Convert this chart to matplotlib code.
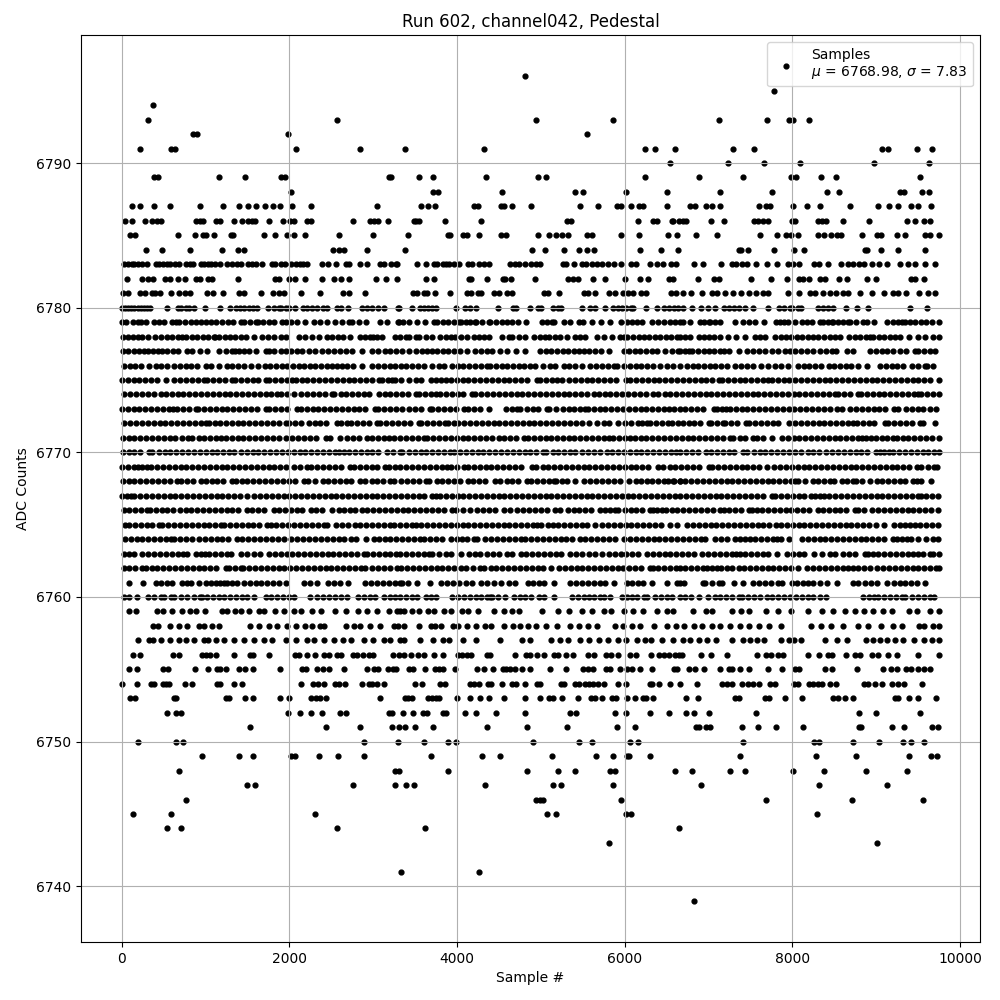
import matplotlib

matplotlib.use("Agg")
import matplotlib.pyplot as plt

# sample numbers, one list per ADC level
s6739 = [6822]
s6741 = [3330, 4259]
s6743 = [5807, 9013]
s6744 = [540, 707, 2565, 3616, 6650]
s6745 = [135, 588, 2303, 5069, 5176, 6010, 6081, 8299]
s6746 = [766, 4938, 4986, 5021, 5950, 7691, 8716, 9561]
s6747 = [1493, 1588, 2755, 3255, 3390, 3485, 4330, 5140, 5236, 5855, 6905, 8323, 9132]
s6748 = [683, 3263, 3303, 3890, 4831, 5200, 5402, 5819, 5879, 6605, 6798, 7251, 7441, 8013, 8382, 8882, 9371]
s6749 = [957, 1397, 1564, 2017, 2064, 2350, 2577, 2886, 3687, 4295, 4509, 5128, 5653, 5855, 6022, 6046, 6296, 7370, 8287, 8763, 9394, 9656, 9728]
s6750 = [195, 647, 730, 2886, 3291, 3604, 3890, 3985, 4902, 5450, 5605, 6069, 6153, 7417, 8263, 8323, 8728, 9037, 9323, 9418, 9573]
s6751 = [1528, 2434, 2839, 3220, 3303, 3378, 3497, 3711, 4354, 4831, 5307, 5903, 6117, 6846, 6881, 6965, 7012, 7394, 7596, 7810, 8132, 8799, 8815, 9192, 9335, 9668, 9740]
s6752 = [540, 647, 707, 1981, 2124, 2255, 2386, 2600, 2672, 3184, 3224, 3358, 3473, 3592, 3640, 3830, 3866, 4092, 4223, 4462, 4807, 5343, 5414, 5879, 6010, 6296, 6534, 6727, 6822, 7001, 7572, 8799, 9001, 9525]
s6753 = [99, 159, 623, 647, 1243, 1278, 1469, 1564, 1886, 1993, 2255, 2315, 2362, 2441, 3077, 3378, 3413, 3461, 3652, 3699, 3747, 3783, 3997, 4152, 4271, 4378, 4557, 4807, 4986, 5093, 5140, 5248, 5438, 5593, 5641, 5724, 5843, 5891, 6022, 6117, 6224, 6260, 6343, 6727, 6870, 7322, 7358, 7679, 7727, 7918, 8120, 8489, 8549, 8632, 8728, 9228, 9263, 9394, 9502, 9716]
s6754 = [0, 183, 349, 385, 492, 528, 564, 754, 838, 1135, 1171, 1338, 1433, 2136, 2279, 2338, 2410, 2541, 2588, 2660, 2862, 2946, 2981, 3041, 3125, 3497, 3580, 3795, 3854, 4152, 4200, 4259, 4366, 4402, 4533, 4652, 4700, 4807, 4950, 4986, 5236, 5271, 5402, 5450, 5521, 5569, 5617, 5676, 5748, 5926, 6010, 6296, 6331, 6415, 6546, 6655, 6858, 7167, 7215, 7286, 7405, 7477, 7525, 7608, 7739, 7799, 8025, 8072, 8203, 8251, 8311, 8358, 8454, 8525, 8858, 8906, 8990, 9073, 9192, 9263, 9335, 9549]
s6755 = [87, 183, 492, 552, 873, 1028, 1135, 1171, 1243, 1397, 1469, 1564, 1886, 2148, 2195, 2326, 2398, 2469, 2648, 2922, 3005, 3053, 3172, 3236, 3275, 3425, 3473, 3616, 3735, 3783, 3830, 3973, 4235, 4319, 4426, 4545, 4581, 4628, 4688, 4771, 4866, 5105, 5295, 5498, 5557, 5617, 5772, 5819, 5938, 6022, 6093, 6177, 6331, 6593, 6621, 6762, 6834, 6941, 7143, 7239, 7286, 7370, 7489, 7715, 7882, 8037, 8084, 8394, 8477, 8775, 9085, 9180, 9252, 9359, 9418, 9502, 9573, 9645]
s6756 = [135, 218, 611, 683, 957, 1005, 1052, 1124, 1338, 1528, 1564, 1755, 2064, 2112, 2207, 2303, 2410, 2469, 2565, 2612, 2755, 2803, 2874, 2946, 2993, 3232, 3303, 3366, 3449, 3533, 3604, 3723, 3830, 4009, 4057, 4116, 4164, 4354, 4390, 4688, 4819, 4866, 4950, 5033, 5152, 5200, 5295, 5379, 5557, 5629, 5772, 5831, 5915, 6069, 6129, 6319, 6415, 6474, 6534, 6605, 6643, 6679, 6905, 7024, 7215, 7584, 7691, 7751, 7834, 7894, 8191, 8323, 8430, 8477, 8644, 8751, 8811, 8954, 9025, 9144, 9252, 9502, 9752]
s6757 = [195, 326, 373, 468, 576, 683, 766, 862, 981, 1028, 1124, 1219, 1338, 1457, 1576, 1695, 1790, 1957, 2076, 2207, 2291, 2410, 2529, 2636, 2731, 2886, 2993, 3125, 3196, 3323, 3366, 3556, 3711, 3830, 3902, 4068, 4223, 4509, 4771, 4866, 5117, 5224, 5319, 5462, 5569, 5688, 5795, 5926, 6010, 6141, 6248, 6319, 6450, 6581, 6691, 6774, 6881, 6977, 7084, 7286, 7417, 7501, 7584, 7667, 7870, 7965, 8025, 8108, 8394, 8537, 8656, 8882, 8966, 9049, 9132, 9228, 9323, 9454, 9573, 9668, 9752]
s6758 = [373, 433, 576, 683, 778, 921, 981, 1076, 1159, 1528, 1636, 1755, 1850, 1969, 2076, 2183, 2267, 2362, 2410, 2672, 2767, 2839, 2958, 3077, 3244, 3291, 3366, 3544, 3687, 3735, 3806, 3949, 4009, 4116, 4223, 4330, 4402, 4557, 4664, 4747, 4843, 4938, 5057, 5188, 5343, 5450, 5557, 5665, 5879, 5974, 6093, 6177, 6355, 6510, 6617, 6703, 6822, 6917, 7036, 7132, 7251, 7370, 7489, 7608, 7727, 7870, 8227, 8346, 8465, 8608, 8787, 8906, 9061, 9204, 9311, 9514, 9573, 9680, 9752]
s6759 = [87, 171, 421, 492, 600, 719, 814, 885, 992, 1195, 1255, 1350, 1421, 1517, 1636, 1695, 1826, 1933, 2052, 2136, 2267, 2374, 2541, 2672, 2815, 2922, 3041, 3184, 3283, 3318, 3366, 3461, 3544, 3652, 3723, 3842, 3926, 4057, 4128, 4247, 4438, 4557, 4652, 4735, 5009, 5200, 5331, 5486, 5605, 5748, 5831, 5986, 6105, 6224, 6383, 6502, 6581, 6810, 6965, 7036, 7286, 7382, 7489, 7691, 7834, 7989, 8191, 8358, 8489, 8632, 8751, 8858, 8966, 9085, 9192, 9394, 9490, 9645, 9752]
s6760 = [28, 85, 179, 306, 385, 465, 504, 584, 623, 703, 774, 862, 930, 961, 1020, 1090, 1159, 1219, 1290, 1360, 1430, 1497, 1576, 1715, 1785, 1855, 1925, 1993, 2052, 2243, 2330, 2400, 2470, 2540, 2610, 2688, 2815, 2885, 2955, 3025, 3132, 3204, 3265, 3323, 3390, 3460, 3525, 3624, 3685, 3743, 3941, 4010, 4080, 4150, 4220, 4290, 4360, 4398, 4418, 4490, 4577, 4676, 4747, 4815, 4885, 4974, 5041, 5152, 5371, 5440, 5510, 5580, 5637, 5708, 5756, 5819, 5966, 6030, 6090, 6145, 6232, 6272, 6363, 6430, 6500, 6570, 6661, 6720, 6790, 6881, 6989, 7072, 7140, 7210, 7285, 7358, 7398, 7470, 7540, 7616, 7695, 7755, 7834, 7905, 7975, 8045, 8115, 8185, 8251, 8330, 8402, 8846, 8910, 8974, 9025, 9095, 9165, 9235, 9303, 9343, 9434, 9500, 9570, 9640, 9692]
s6761 = [87, 254, 405, 470, 540, 603, 723, 780, 822, 921, 1000, 1060, 1119, 1170, 1219, 1258, 1320, 1378, 1457, 1525, 1595, 1665, 1735, 1805, 1875, 1953, 2171, 2240, 2330, 2458, 2530, 2600, 2696, 2906, 2975, 3045, 3115, 3185, 3255, 3323, 3346, 3413, 3525, 3671, 3810, 3880, 3950, 4020, 4112, 4180, 4287, 4360, 4438, 4529, 4616, 4696, 4843, 4910, 4974, 5041, 5152, 5350, 5422, 5490, 5560, 5630, 5700, 5770, 5867, 6026, 6090, 6160, 6224, 6323, 6510, 6621, 6663, 6711, 6929, 6961, 7036, 7120, 7159, 7310, 7417, 7536, 7605, 7675, 7745, 7834, 7882, 7993, 8060, 8130, 8191, 8251, 8330, 8410, 8537, 8728, 8787, 8866, 8940, 9013, 9124, 9212, 9283, 9350, 9420, 9490, 9581]
s6762 = [20, 90, 160, 246, 286, 355, 425, 495, 565, 635, 705, 775, 845, 915, 985, 1055, 1125, 1239, 1278, 1350, 1417, 1449, 1520, 1590, 1660, 1730, 1800, 1870, 1940, 2010, 2080, 2150, 2220, 2290, 2360, 2430, 2500, 2570, 2640, 2710, 2780, 2850, 2906, 2985, 3055, 3125, 3195, 3283, 3334, 3405, 3475, 3545, 3615, 3685, 3755, 3825, 3895, 3965, 4041, 4112, 4190, 4271, 4327, 4400, 4470, 4540, 4610, 4680, 4750, 4820, 4890, 4960, 5030, 5120, 5212, 5285, 5355, 5425, 5495, 5565, 5635, 5705, 5775, 5845, 5915, 5985, 6055, 6125, 6195, 6304, 6343, 6403, 6470, 6540, 6610, 6661, 6720, 6790, 6860, 6933, 6981, 7040, 7100, 7147, 7215, 7285, 7358, 7425, 7495, 7565, 7635, 7705, 7775, 7845, 7915, 7981, 8072, 8180, 8250, 8320, 8390, 8460, 8530, 8600, 8665, 8728, 8787, 8860, 8926, 9013, 9085, 9155, 9225, 9295, 9365, 9435, 9505, 9575, 9645, 9715, 9750]
s6763 = [28, 90, 147, 238, 314, 385, 455, 525, 595, 665, 735, 782, 881, 940, 988, 1040, 1110, 1180, 1250, 1306, 1417, 1490, 1576, 1648, 1755, 1825, 1895, 1965, 2035, 2105, 2175, 2245, 2315, 2385, 2455, 2525, 2595, 2665, 2735, 2805, 2886, 2926, 2995, 3065, 3135, 3205, 3275, 3323, 3395, 3465, 3535, 3605, 3664, 3703, 3783, 3862, 3930, 4041, 4140, 4210, 4271, 4358, 4430, 4500, 4596, 4656, 4763, 4827, 4894, 4965, 5035, 5105, 5175, 5245, 5343, 5422, 5495, 5569, 5649, 5728, 5807, 5880, 5950, 6020, 6090, 6160, 6264, 6335, 6405, 6475, 6545, 6615, 6680, 6750, 6830, 6921, 6995, 7065, 7135, 7205, 7275, 7330, 7370, 7437, 7510, 7580, 7647, 7715, 7814, 7933, 8005, 8075, 8145, 8259, 8350, 8450, 8509, 8608, 8680, 8750, 8866, 8906, 8966, 9025, 9095, 9165, 9235, 9305, 9375, 9445, 9502, 9561, 9640, 9680, 9752]
s6764 = [36, 105, 175, 245, 315, 385, 455, 525, 584, 623, 695, 765, 835, 921, 988, 1060, 1130, 1200, 1270, 1378, 1437, 1510, 1580, 1650, 1720, 1790, 1860, 1933, 2021, 2095, 2165, 2235, 2305, 2375, 2445, 2515, 2585, 2655, 2735, 2799, 2914, 3005, 3065, 3135, 3205, 3275, 3345, 3415, 3485, 3556, 3604, 3675, 3745, 3822, 3930, 4000, 4060, 4120, 4200, 4239, 4338, 4410, 4480, 4550, 4620, 4690, 4760, 4815, 4882, 4955, 5025, 5095, 5165, 5235, 5305, 5375, 5470, 5529, 5601, 5675, 5745, 5815, 5885, 5986, 6065, 6135, 6205, 6275, 6345, 6415, 6485, 6555, 6625, 6695, 6765, 6835, 6905, 6961, 7080, 7150, 7220, 7318, 7378, 7440, 7497, 7556, 7630, 7700, 7770, 7814, 7862, 7965, 8112, 8185, 8255, 8325, 8395, 8465, 8535, 8605, 8675, 8745, 8815, 8885, 8955, 9025, 9095, 9204, 9252, 9303, 9365, 9422, 9494, 9601, 9680, 9740]
s6765 = [36, 87, 155, 225, 295, 365, 445, 484, 555, 625, 695, 765, 835, 905, 975, 1045, 1115, 1179, 1219, 1290, 1360, 1430, 1500, 1570, 1640, 1735, 1774, 1845, 1915, 1985, 2055, 2125, 2195, 2265, 2335, 2410, 2450, 2561, 2630, 2700, 2787, 2846, 2915, 2985, 3055, 3125, 3204, 3244, 3323, 3390, 3460, 3505, 3572, 3645, 3715, 3785, 3855, 3925, 3995, 4065, 4135, 4205, 4275, 4345, 4415, 4485, 4555, 4625, 4695, 4765, 4835, 4905, 4954, 5001, 5081, 5144, 5204, 5275, 5345, 5415, 5485, 5555, 5649, 5728, 5800, 5870, 5940, 6010, 6080, 6150, 6220, 6290, 6360, 6430, 6542, 6629, 6742, 6815, 6885, 6955, 7025, 7095, 7165, 7235, 7305, 7375, 7445, 7515, 7585, 7655, 7725, 7806, 7862, 7935, 8005, 8075, 8145, 8215, 8285, 8355, 8425, 8495, 8565, 8635, 8705, 8775, 8845, 8915, 8997, 9093, 9212, 9283, 9343, 9400, 9462, 9529, 9600, 9670, 9740]
s6766 = [20, 90, 160, 230, 298, 337, 410, 480, 544, 615, 690, 760, 830, 900, 970, 1040, 1110, 1180, 1250, 1320, 1390, 1497, 1556, 1630, 1700, 1814, 1874, 1945, 2015, 2085, 2155, 2251, 2311, 2385, 2509, 2588, 2650, 2727, 2787, 2860, 2930, 3000, 3070, 3140, 3210, 3280, 3350, 3420, 3490, 3560, 3630, 3700, 3770, 3840, 3941, 3993, 4070, 4152, 4239, 4310, 4380, 4450, 4557, 4636, 4716, 4790, 4860, 4930, 5000, 5070, 5172, 5232, 5319, 5390, 5460, 5530, 5600, 5708, 5767, 5830, 5887, 5926, 6000, 6070, 6140, 6204, 6304, 6343, 6391, 6450, 6494, 6562, 6630, 6700, 6770, 6840, 6910, 6980, 7050, 7132, 7179, 7250, 7320, 7390, 7489, 7517, 7576, 7636, 7710, 7780, 7850, 7920, 7990, 8060, 8130, 8200, 8311, 8362, 8435, 8505, 8575, 8645, 8747, 8787, 8860, 8946, 9025, 9095, 9165, 9235, 9305, 9375, 9445, 9515, 9585, 9655, 9740]
s6767 = [0, 60, 107, 147, 220, 290, 360, 430, 500, 570, 640, 710, 780, 850, 920, 990, 1060, 1130, 1200, 1270, 1340, 1410, 1497, 1576, 1650, 1720, 1790, 1860, 1930, 2000, 2070, 2140, 2210, 2280, 2350, 2420, 2490, 2560, 2630, 2700, 2770, 2840, 2910, 2980, 3050, 3120, 3190, 3260, 3330, 3400, 3470, 3540, 3610, 3703, 3743, 3802, 3862, 3935, 4005, 4075, 4145, 4215, 4285, 4355, 4425, 4495, 4565, 4635, 4705, 4775, 4845, 4915, 4985, 5055, 5125, 5195, 5265, 5335, 5405, 5475, 5545, 5615, 5685, 5755, 5825, 5895, 5965, 6035, 6105, 6175, 6245, 6315, 6385, 6455, 6525, 6595, 6665, 6735, 6805, 6875, 6945, 7015, 7085, 7155, 7225, 7295, 7365, 7435, 7505, 7575, 7645, 7755, 7794, 7865, 7935, 8005, 8075, 8145, 8219, 8271, 8325, 8378, 8441, 8515, 8585, 8655, 8725, 8795, 8865, 8935, 9005, 9075, 9145, 9215, 9285, 9355, 9425, 9495, 9541, 9593, 9665, 9740]
s6768 = [8, 80, 150, 220, 290, 360, 430, 500, 570, 663, 711, 774, 850, 941, 1000, 1070, 1140, 1210, 1318, 1358, 1437, 1497, 1570, 1640, 1710, 1780, 1850, 1920, 1990, 2060, 2171, 2219, 2300, 2402, 2458, 2530, 2600, 2670, 2740, 2846, 2906, 2980, 3050, 3120, 3204, 3251, 3334, 3405, 3475, 3545, 3624, 3664, 3755, 3825, 3895, 3965, 4035, 4128, 4192, 4265, 4335, 4458, 4517, 4590, 4660, 4730, 4835, 4882, 4955, 5025, 5095, 5152, 5184, 5250, 5311, 5410, 5517, 5590, 5660, 5730, 5800, 5870, 5940, 6046, 6137, 6200, 6264, 6323, 6395, 6465, 6522, 6581, 6661, 6584, 6655, 6725, 6795, 6865, 6935, 7005, 7075, 7145, 7215, 7285, 7355, 7425, 7495, 7565, 7635, 7705, 7775, 7845, 7915, 7985, 8033, 8072, 8150, 8251, 8311, 8380, 8450, 8501, 8589, 8650, 8720, 8759, 8830, 8926, 9005, 9075, 9145, 9215, 9285, 9343, 9442, 9490, 9541, 9660]
s6769 = [0, 70, 140, 195, 246, 300, 353, 417, 490, 560, 630, 700, 770, 840, 910, 980, 1050, 1120, 1190, 1260, 1330, 1400, 1470, 1540, 1610, 1680, 1750, 1820, 1890, 1953, 2052, 2125, 2211, 2259, 2330, 2400, 2470, 2540, 2610, 2727, 2767, 2840, 2910, 2980, 3050, 3144, 3184, 3255, 3323, 3395, 3465, 3535, 3605, 3675, 3745, 3815, 3882, 3922, 4000, 4080, 4128, 4200, 4270, 4340, 4410, 4480, 4550, 4620, 4690, 4760, 4894, 4946, 5020, 5090, 5160, 5230, 5300, 5370, 5440, 5510, 5580, 5650, 5720, 5790, 5860, 5930, 6000, 6070, 6140, 6210, 6280, 6403, 6462, 6535, 6605, 6675, 6745, 6815, 6885, 7000, 7040, 7115, 7185, 7255, 7325, 7395, 7465, 7535, 7605, 7703, 7783, 7855, 7925, 7995, 8065, 8135, 8205, 8275, 8345, 8415, 8485, 8555, 8625, 8695, 8765, 8835, 8905, 8975, 9045, 9115, 9185, 9255, 9325, 9395, 9482, 9541, 9615, 9685, 9732]
s6770 = [8, 80, 150, 220, 326, 365, 440, 510, 580, 650, 720, 790, 860, 930, 1000, 1070, 1140, 1210, 1280, 1338, 1417, 1490, 1560, 1630, 1700, 1770, 1840, 1910, 1980, 2050, 2120, 2190, 2260, 2330, 2400, 2470, 2540, 2589, 2648, 2708, 2780, 2850, 2920, 2990, 3060, 3164, 3236, 3315, 3346, 3425, 3493, 3565, 3635, 3705, 3775, 3845, 3921, 3961, 4035, 4105, 4175, 4245, 4315, 4385, 4455, 4525, 4595, 4665, 4735, 4805, 4875, 4945, 5025, 5065, 5140, 5210, 5280, 5350, 5410, 5490, 5557, 5630, 5700, 5787, 5847, 5920, 5990, 6060, 6130, 6200, 6270, 6340, 6410, 6480, 6550, 6613, 6663, 6735, 6805, 6875, 6973, 7028, 7100, 7170, 7240, 7310, 7409, 7465, 7540, 7610, 7680, 7750, 7820, 7890, 7960, 8030, 8100, 8191, 8251, 8323, 8402, 8475, 8545, 8615, 8685, 8755, 8825, 8895, 8998, 9045, 9100, 9156, 9204, 9275, 9345, 9415, 9485, 9555, 9625, 9695, 9752]
s6771 = [8, 80, 150, 220, 290, 360, 430, 500, 570, 640, 722, 790, 842, 915, 985, 1055, 1125, 1179, 1239, 1310, 1380, 1450, 1520, 1590, 1660, 1730, 1800, 1870, 1953, 2033, 2105, 2175, 2245, 2315, 2430, 2489, 2608, 2688, 2760, 2830, 2926, 2985, 3055, 3125, 3184, 3244, 3323, 3395, 3465, 3535, 3604, 3644, 3715, 3785, 3855, 3925, 3995, 4065, 4135, 4205, 4275, 4345, 4415, 4497, 4557, 4630, 4700, 4795, 4843, 4915, 4985, 5065, 5120, 5190, 5260, 5330, 5400, 5470, 5540, 5610, 5680, 5750, 5807, 5859, 5930, 6000, 6065, 6117, 6190, 6260, 6330, 6400, 6470, 6540, 6610, 6680, 6750, 6820, 6890, 6960, 7030, 7100, 7170, 7259, 7298, 7370, 7440, 7536, 7584, 7655, 7755, 7874, 7945, 8015, 8085, 8155, 8225, 8295, 8365, 8435, 8505, 8575, 8645, 8715, 8785, 8827, 8874, 8935, 8997, 9065, 9130, 9196, 9244, 9315, 9385, 9455, 9525, 9595, 9665, 9752]
s6772 = [28, 100, 170, 240, 310, 380, 450, 520, 590, 660, 730, 800, 870, 940, 1000, 1040, 1108, 1167, 1240, 1310, 1380, 1450, 1520, 1590, 1660, 1730, 1800, 1870, 1953, 1993, 2065, 2135, 2231, 2299, 2370, 2440, 2569, 2616, 2688, 2735, 2805, 2875, 2945, 3045, 3085, 3155, 3225, 3295, 3365, 3435, 3544, 3572, 3645, 3715, 3785, 3850, 3890, 3969, 4013, 4085, 4155, 4225, 4295, 4365, 4435, 4505, 4575, 4645, 4715, 4785, 4855, 4922, 4995, 5065, 5135, 5205, 5275, 5345, 5415, 5485, 5569, 5668, 5748, 5807, 5926, 6000, 6073, 6153, 6210, 6264, 6304, 6375, 6445, 6522, 6562, 6631, 6700, 6762, 6822, 6895, 7001, 7028, 7100, 7171, 7199, 7270, 7340, 7449, 7489, 7560, 7630, 7700, 7770, 7834, 7965, 8035, 8105, 8175, 8245, 8323, 8378, 8450, 8520, 8590, 8660, 8720, 8767, 8840, 8910, 8980, 9105, 9144, 9215, 9285, 9355, 9425, 9521, 9561, 9700]
s6773 = [0, 70, 140, 210, 280, 350, 420, 490, 560, 615, 655, 730, 800, 881, 909, 980, 1050, 1120, 1190, 1260, 1330, 1400, 1470, 1540, 1610, 1715, 1755, 1830, 1900, 1970, 2084, 2132, 2205, 2275, 2345, 2415, 2485, 2555, 2625, 2695, 2765, 2835, 2905, 3025, 3057, 3130, 3200, 3270, 3340, 3425, 3493, 3565, 3675, 3703, 3775, 3845, 3915, 3985, 4088, 4128, 4200, 4270, 4378, 4584, 4650, 4716, 4755, 4830, 4900, 4970, 5073, 5101, 5180, 5263, 5331, 5400, 5470, 5529, 5557, 5630, 5700, 5770, 5840, 5910, 5980, 6050, 6120, 6190, 6260, 6330, 6400, 6470, 6534, 6584, 6655, 6725, 6795, 6865, 6935, 7060, 7100, 7165, 7211, 7251, 7325, 7395, 7465, 7535, 7605, 7675, 7745, 7815, 7885, 7955, 8025, 8095, 8165, 8235, 8305, 8375, 8445, 8529, 8596, 8688, 8760, 8830, 8900, 8970, 9040, 9110, 9212, 9263, 9355, 9425, 9495, 9565, 9648, 9712]
s6774 = [28, 100, 170, 240, 310, 380, 465, 524, 595, 665, 735, 805, 875, 945, 1015, 1085, 1155, 1225, 1295, 1365, 1435, 1505, 1575, 1645, 1715, 1785, 1854, 1902, 1975, 2052, 2132, 2211, 2285, 2355, 2425, 2509, 2537, 2610, 2680, 2750, 2820, 2890, 2946, 3065, 3135, 3205, 3275, 3345, 3415, 3505, 3544, 3615, 3685, 3743, 3794, 3865, 3935, 4005, 4075, 4180, 4219, 4290, 4360, 4430, 4500, 4570, 4640, 4710, 4780, 4850, 4920, 4990, 5060, 5130, 5200, 5270, 5340, 5410, 5480, 5550, 5629, 5688, 5760, 5830, 5900, 5970, 6040, 6110, 6180, 6250, 6343, 6403, 6475, 6545, 6615, 6685, 6755, 6825, 6895, 6965, 7035, 7105, 7175, 7245, 7315, 7385, 7455, 7525, 7595, 7665, 7735, 7805, 7875, 7945, 8015, 8085, 8155, 8225, 8295, 8365, 8435, 8509, 8549, 8620, 8690, 8787, 8815, 8890, 8960, 9030, 9100, 9170, 9240, 9310, 9380, 9450, 9502, 9541, 9609, 9680, 9750]
s6775 = [0, 70, 140, 210, 280, 350, 420, 524, 623, 695, 765, 835, 905, 981, 1020, 1090, 1160, 1230, 1318, 1346, 1420, 1490, 1560, 1630, 1715, 1755, 1830, 1900, 1970, 2033, 2072, 2145, 2215, 2285, 2355, 2425, 2495, 2565, 2635, 2705, 2775, 2845, 2915, 2985, 3065, 3104, 3170, 3224, 3263, 3326, 3425, 3505, 3575, 3683, 3743, 3805, 3862, 3922, 3995, 4065, 4135, 4205, 4275, 4345, 4415, 4485, 4555, 4625, 4695, 4765, 4835, 4954, 4994, 5065, 5135, 5192, 5251, 5331, 5405, 5475, 5545, 5615, 5685, 5755, 5825, 5895, 6018, 6065, 6135, 6205, 6275, 6345, 6415, 6485, 6555, 6625, 6695, 6765, 6835, 6905, 6975, 7045, 7120, 7159, 7230, 7300, 7370, 7440, 7510, 7580, 7650, 7715, 7755, 7825, 7895, 7965, 8035, 8105, 8175, 8245, 8315, 8385, 8455, 8525, 8595, 8665, 8735, 8805, 8875, 8945, 9015, 9085, 9155, 9225, 9295, 9365, 9435, 9505, 9575, 9645, 9750]
s6776 = [28, 95, 160, 225, 326, 405, 470, 540, 623, 695, 762, 830, 901, 1000, 1060, 1159, 1258, 1318, 1385, 1455, 1536, 1624, 1703, 1770, 1840, 1905, 1975, 2040, 2110, 2175, 2245, 2310, 2380, 2450, 2509, 2570, 2628, 2688, 2760, 2866, 2985, 3055, 3125, 3195, 3263, 3326, 3395, 3460, 3530, 3600, 3703, 3783, 3842, 3941, 4010, 4075, 4145, 4210, 4280, 4358, 4398, 4465, 4530, 4600, 4665, 4735, 4800, 4870, 4934, 5025, 5113, 5172, 5271, 5331, 5410, 5490, 5589, 5660, 5730, 5800, 5867, 5907, 5986, 6060, 6130, 6200, 6264, 6343, 6420, 6502, 6581, 6661, 6742, 6810, 6880, 6945, 7015, 7080, 7150, 7215, 7318, 7390, 7460, 7536, 7624, 7715, 7790, 7870, 7953, 8072, 8140, 8205, 8275, 8340, 8442, 8497, 8565, 8635, 8700, 8787, 8894, 9045, 9115, 9185, 9250, 9323, 9434, 9505, 9581, 9609, 9680]
s6777 = [8, 75, 140, 205, 266, 306, 370, 430, 484, 544, 610, 675, 782, 842, 933, 1020, 1159, 1239, 1318, 1346, 1397, 1460, 1517, 1596, 1715, 1755, 1814, 1902, 1953, 2020, 2085, 2150, 2231, 2299, 2390, 2460, 2530, 2600, 2670, 2747, 2866, 2985, 3053, 3144, 3205, 3270, 3346, 3425, 3505, 3584, 3644, 3703, 3763, 3830, 3895, 3960, 4030, 4120, 4219, 4290, 4358, 4418, 4517, 4596, 4700, 4807, 4994, 5060, 5125, 5190, 5260, 5325, 5390, 5450, 5515, 5569, 5649, 5716, 5807, 5986, 6055, 6120, 6185, 6250, 6320, 6383, 6482, 6562, 6641, 6663, 6715, 6762, 6802, 6870, 6941, 7000, 7070, 7140, 7179, 7239, 7366, 7457, 7525, 7600, 7675, 7755, 7830, 7914, 7973, 8033, 8100, 8175, 8251, 8330, 8400, 8470, 8517, 8648, 8720, 8926, 8995, 9065, 9135, 9204, 9283, 9355, 9462, 9502, 9570, 9640, 9700]
s6778 = [8, 75, 135, 195, 246, 306, 397, 472, 535, 600, 665, 720, 762, 842, 901, 965, 1030, 1100, 1112, 1159, 1225, 1290, 1355, 1420, 1485, 1576, 1675, 1745, 1815, 1893, 1961, 2112, 2190, 2271, 2350, 2450, 2509, 2575, 2640, 2727, 2839, 2900, 2966, 2993, 3050, 3104, 3263, 3323, 3386, 3425, 3505, 3544, 3624, 3699, 3802, 3870, 3930, 3981, 4041, 4120, 4200, 4259, 4319, 4378, 4537, 4616, 4656, 4735, 4815, 4914, 4985, 5053, 5093, 5165, 5232, 5311, 5410, 5470, 5529, 5668, 5748, 5847, 5946, 5986, 6026, 6105, 6165, 6230, 6295, 6360, 6425, 6490, 6555, 6620, 6661, 6723, 6782, 6881, 6945, 7010, 7060, 7140, 7227, 7330, 7437, 7556, 7615, 7675, 7795, 7860, 7925, 7990, 8055, 8120, 8185, 8250, 8311, 8382, 8450, 8510, 8569, 8680, 8747, 8810, 8875, 8926, 8966, 9030, 9095, 9160, 9225, 9283, 9394, 9502, 9581, 9680, 9750]
s6779 = [0, 45, 130, 190, 225, 285, 385, 445, 500, 600, 650, 680, 755, 820, 885, 945, 1005, 1060, 1127, 1200, 1265, 1330, 1417, 1457, 1525, 1596, 1624, 1690, 1755, 1820, 1913, 1953, 2020, 2085, 2191, 2290, 2370, 2450, 2549, 2630, 2708, 2747, 2830, 2918, 3085, 3164, 3303, 3294, 3360, 3425, 3525, 3616, 3723, 3763, 3830, 3895, 3960, 4021, 4041, 4105, 4160, 4219, 4231, 4300, 4378, 4398, 4465, 4530, 4595, 4660, 4725, 4827, 5013, 5075, 5132, 5160, 5271, 5343, 5450, 5502, 5609, 5716, 5827, 5954, 6026, 6085, 6145, 6212, 6331, 6403, 6470, 6535, 6600, 6661, 6700, 6782, 6893, 6945, 7000, 7020, 7080, 7140, 7322, 7417, 7485, 7556, 7660, 7802, 7854, 7905, 7953, 8033, 8112, 8175, 8240, 8330, 8370, 8420, 8470, 8490, 8550, 8610, 8668, 8688, 8760, 8839, 8886, 8974, 9132, 9200, 9263, 9303, 9350, 9402, 9462, 9530, 9600, 9665, 9750]
s6780 = [5, 40, 75, 110, 150, 190, 225, 262, 300, 340, 540, 670, 710, 760, 800, 862, 993, 1171, 1290, 1360, 1410, 1460, 1520, 1570, 1610, 1743, 1815, 1870, 1895, 1960, 2000, 2060, 2160, 2210, 2270, 2330, 2400, 2450, 2570, 2620, 2700, 2870, 2930, 2990, 3060, 3130, 3290, 3306, 3465, 3560, 3610, 3650, 3700, 3750, 3985, 4100, 4150, 4220, 4490, 4670, 4700, 4870, 4960, 5000, 5150, 5200, 5240, 5485, 5590, 5640, 5760, 5860, 5920, 5970, 6020, 6070, 6105, 6260, 6390, 6470, 6530, 6590, 6640, 6700, 6802, 6909, 6990, 7072, 7180, 7240, 7300, 7360, 7440, 7530, 7715, 7840, 7900, 7970, 8000, 8072, 8100, 8310, 8370, 8430, 8490, 8640, 8770, 8906, 9410, 9608]
s6781 = [16, 75, 218, 278, 361, 397, 457, 588, 683, 754, 814, 1016, 1088, 1207, 1397, 1457, 1659, 1802, 1874, 1933, 2136, 2362, 2636, 2708, 2898, 3473, 3521, 3604, 3640, 3735, 3914, 4116, 4164, 4247, 4283, 4438, 4497, 4593, 4652, 5033, 5081, 5212, 5510, 5557, 5641, 5807, 5879, 5974, 6034, 6105, 6200, 6260, 6558, 6617, 6691, 6786, 6917, 7036, 7096, 7191, 7298, 7382, 7489, 7572, 7656, 7715, 7953, 8084, 8215, 8275, 8370, 8454, 8525, 8608, 8668, 8811, 8954, 9097, 9204, 9263, 9359, 9514, 9621, 9704]
s6782 = [64, 242, 314, 373, 516, 576, 671, 754, 885, 933, 1028, 1076, 1386, 1826, 1874, 1993, 2064, 2183, 2386, 2529, 2612, 2708, 3029, 3148, 3279, 3628, 3723, 4140, 4164, 4354, 4545, 4569, 4640, 4926, 5319, 5379, 5438, 5617, 5760, 5998, 6177, 6284, 6534, 6582, 6870, 7060, 7120, 7513, 7751, 7941, 8084, 8132, 8203, 8334, 8394, 8561, 8656, 8894, 9001, 9418, 9466, 9573]
s6783 = [28, 75, 123, 147, 195, 242, 302, 409, 445, 492, 540, 576, 635, 683, 766, 814, 850, 945, 981, 1028, 1064, 1112, 1171, 1255, 1314, 1374, 1421, 1505, 1552, 1600, 1671, 1790, 1826, 1898, 1945, 2017, 2076, 2124, 2160, 2207, 2386, 2458, 2553, 2672, 2708, 2839, 2922, 3077, 3125, 3208, 3268, 3286, 3521, 3628, 3723, 3759, 3830, 3866, 3902, 3961, 4021, 4128, 4176, 4259, 4319, 4378, 4628, 4688, 4735, 4807, 4878, 4938, 4986, 5259, 5295, 5391, 5486, 5534, 5605, 5665, 5724, 5795, 5867, 5950, 6081, 6129, 6296, 6391, 6462, 6558, 6617, 6822, 6929, 7155, 7275, 7334, 7394, 7465, 7572, 7703, 7822, 7953, 8013, 8084, 8263, 8323, 8430, 8585, 8668, 8728, 8799, 8858, 8954, 9037, 9132, 9287, 9382, 9466, 9585, 9704]
s6784 = [290, 480, 814, 1195, 1386, 1457, 2517, 2588, 2648, 2922, 3378, 4890, 5045, 5271, 5450, 5545, 5629, 6188, 6439, 6631, 7358, 7386, 7477, 7787, 8025, 8144, 8870, 8894, 9061, 9263, 9585]
s6785 = [99, 159, 671, 873, 969, 1005, 1100, 1302, 1326, 1695, 1826, 1969, 2052, 2183, 2588, 2993, 3413, 3890, 3914, 4068, 4116, 4259, 4521, 4581, 4962, 5093, 5176, 5248, 5319, 5545, 5605, 5950, 6165, 6522, 6619, 6846, 7096, 7620, 7822, 7930, 7989, 8072, 8311, 8382, 8465, 8537, 8584, 8835, 9013, 9061, 9252, 9347, 9585, 9645, 9752]
s6786 = [40, 123, 278, 361, 421, 468, 885, 933, 969, 1124, 1171, 1338, 1433, 1505, 1552, 1588, 1755, 1921, 2005, 2052, 2207, 2255, 2755, 2958, 3005, 3053, 3172, 3485, 3509, 3544, 3854, 4283, 5307, 5355, 6153, 6343, 6391, 6562, 6582, 6653, 6691, 6727, 7024, 7179, 7548, 7596, 7656, 7715, 7993, 8037, 8311, 8358, 8406, 8608, 8918, 9371, 9466, 9573, 9645]
s6787 = [123, 218, 385, 576, 933, 1207, 1397, 1505, 1600, 1707, 1802, 1886, 2029, 2255, 3041, 3568, 3652, 3735, 4200, 4247, 4521, 4557, 4652, 4878, 5462, 5676, 5903, 5950, 6081, 6165, 6224, 6510, 6782, 6834, 6965, 7036, 7143, 7608, 7691, 7739, 8013, 8180, 8334, 8692, 9025, 9156, 9263, 9418, 9502, 9656]
s6788 = [2017, 3711, 3775, 4533, 5402, 5498, 6010, 6510, 7132, 7763, 8418, 8561, 9283, 9335, 9549, 9633]
s6789 = [385, 433, 1155, 1469, 1902, 1949, 3184, 3207, 3544, 3711, 4346, 4962, 5057, 6248, 6881, 7417, 7981, 8045, 8346, 8525, 9525]
s6790 = [6546, 7227, 7667, 8096, 8978, 9633]
s6791 = [218, 588, 635, 2076, 2839, 3378, 4319, 6248, 6367, 6605, 7298, 7548, 9073, 9144, 9490, 9668]
s6792 = [854, 893, 1981, 5545]
s6793 = [314, 2565, 4938, 5855, 7120, 7703, 7965, 8005, 8203]
s6794 = [373]
s6795 = [7787]
s6796 = [4807]

levels = [
    (6739, s6739), (6741, s6741), (6743, s6743), (6744, s6744), (6745, s6745),
    (6746, s6746), (6747, s6747), (6748, s6748), (6749, s6749), (6750, s6750),
    (6751, s6751), (6752, s6752), (6753, s6753), (6754, s6754), (6755, s6755),
    (6756, s6756), (6757, s6757), (6758, s6758), (6759, s6759), (6760, s6760),
    (6761, s6761), (6762, s6762), (6763, s6763), (6764, s6764), (6765, s6765),
    (6766, s6766), (6767, s6767), (6768, s6768), (6769, s6769), (6770, s6770),
    (6771, s6771), (6772, s6772), (6773, s6773), (6774, s6774), (6775, s6775),
    (6776, s6776), (6777, s6777), (6778, s6778), (6779, s6779), (6780, s6780),
    (6781, s6781), (6782, s6782), (6783, s6783), (6784, s6784), (6785, s6785),
    (6786, s6786), (6787, s6787), (6788, s6788), (6789, s6789), (6790, s6790),
    (6791, s6791), (6792, s6792), (6793, s6793), (6794, s6794), (6795, s6795),
    (6796, s6796),
]

samples = []
counts = []
for level, xs in levels:
    samples.extend(xs)
    counts.extend([level] * len(xs))

plt.figure(figsize=(10, 10))
plt.scatter(samples, counts, s=48, marker=".", color="black", label="Samples\n$\\mu$ = 6768.98, $\\sigma$ = 7.83")
plt.title("Run 602, channel042, Pedestal")
plt.xlabel("Sample #")
plt.ylabel("ADC Counts")
plt.grid()
plt.legend(loc="upper right")
plt.subplots_adjust(left=0.081, right=0.98, top=0.965, bottom=0.058)
plt.savefig("out.png", dpi=100)
